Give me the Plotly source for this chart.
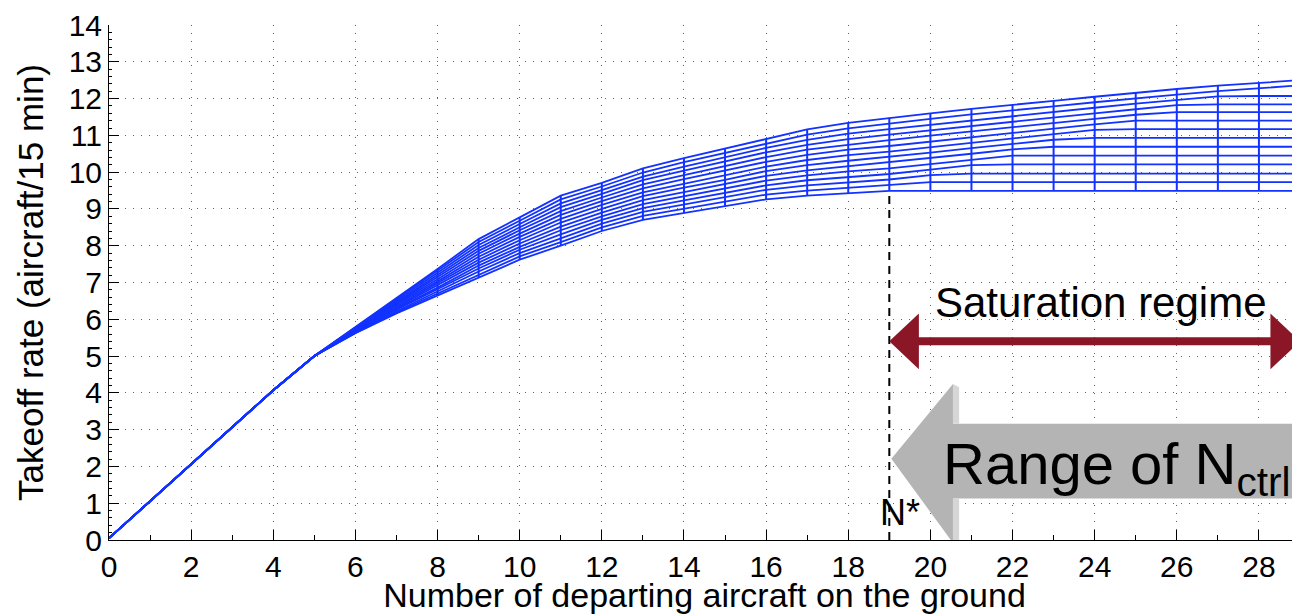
import plotly.graph_objects as go

# ---------------- data ----------------
departing_aircraft = list(range(30))

takeoff_rate_c00 = [0.05, 1.05, 2.07, 3.07, 4.07, 5.00, 5.62, 6.16, 6.64, 7.14, 7.62, 8.00, 8.40, 8.70, 8.89, 9.07, 9.26, 9.36, 9.43, 9.49, 9.49, 9.49, 9.49, 9.49, 9.49, 9.49, 9.49, 9.49, 9.49, 9.49]
takeoff_rate_c01 = [0.05, 1.05, 2.07, 3.07, 4.07, 5.00, 5.63, 6.19, 6.70, 7.22, 7.71, 8.10, 8.50, 8.81, 9.00, 9.19, 9.39, 9.50, 9.58, 9.64, 9.73, 9.73, 9.73, 9.73, 9.73, 9.73, 9.73, 9.73, 9.73, 9.73]
takeoff_rate_c02 = [0.05, 1.05, 2.07, 3.07, 4.07, 5.00, 5.64, 6.22, 6.75, 7.30, 7.80, 8.21, 8.60, 8.92, 9.12, 9.31, 9.52, 9.64, 9.72, 9.80, 9.92, 9.96, 9.96, 9.96, 9.96, 9.96, 9.96, 9.96, 9.96, 9.96]
takeoff_rate_c03 = [0.05, 1.05, 2.07, 3.07, 4.07, 5.00, 5.66, 6.26, 6.81, 7.38, 7.89, 8.31, 8.70, 9.02, 9.23, 9.43, 9.64, 9.78, 9.87, 9.95, 10.07, 10.19, 10.21, 10.21, 10.21, 10.21, 10.21, 10.21, 10.21, 10.21]
takeoff_rate_c04 = [0.05, 1.05, 2.07, 3.07, 4.07, 5.00, 5.67, 6.29, 6.86, 7.46, 7.97, 8.42, 8.80, 9.13, 9.35, 9.55, 9.77, 9.91, 10.02, 10.10, 10.22, 10.34, 10.45, 10.45, 10.45, 10.45, 10.45, 10.45, 10.45, 10.45]
takeoff_rate_c05 = [0.05, 1.05, 2.07, 3.07, 4.07, 5.00, 5.68, 6.32, 6.92, 7.54, 8.06, 8.52, 8.90, 9.24, 9.46, 9.67, 9.90, 10.05, 10.16, 10.26, 10.38, 10.50, 10.62, 10.69, 10.69, 10.69, 10.69, 10.69, 10.69, 10.69]
takeoff_rate_c06 = [0.05, 1.05, 2.07, 3.07, 4.07, 5.00, 5.69, 6.35, 6.98, 7.62, 8.15, 8.63, 9.00, 9.35, 9.58, 9.79, 10.03, 10.19, 10.31, 10.41, 10.53, 10.65, 10.77, 10.88, 10.93, 10.93, 10.93, 10.93, 10.93, 10.93]
takeoff_rate_c07 = [0.05, 1.05, 2.07, 3.07, 4.07, 5.00, 5.71, 6.39, 7.03, 7.70, 8.24, 8.73, 9.11, 9.45, 9.69, 9.92, 10.15, 10.33, 10.46, 10.56, 10.68, 10.80, 10.92, 11.03, 11.15, 11.17, 11.17, 11.17, 11.17, 11.17]
takeoff_rate_c08 = [0.05, 1.05, 2.07, 3.07, 4.07, 5.00, 5.72, 6.42, 7.09, 7.78, 8.33, 8.84, 9.21, 9.56, 9.81, 10.04, 10.28, 10.47, 10.61, 10.71, 10.83, 10.95, 11.07, 11.18, 11.30, 11.40, 11.40, 11.40, 11.40, 11.40]
takeoff_rate_c09 = [0.05, 1.05, 2.07, 3.07, 4.07, 5.00, 5.73, 6.45, 7.15, 7.86, 8.42, 8.94, 9.31, 9.67, 9.92, 10.16, 10.41, 10.61, 10.75, 10.87, 10.99, 11.11, 11.23, 11.33, 11.45, 11.56, 11.63, 11.63, 11.63, 11.63]
takeoff_rate_c10 = [0.05, 1.05, 2.07, 3.07, 4.07, 5.00, 5.74, 6.48, 7.20, 7.94, 8.50, 9.05, 9.41, 9.78, 10.04, 10.28, 10.54, 10.74, 10.90, 11.02, 11.14, 11.26, 11.38, 11.49, 11.60, 11.71, 11.82, 11.84, 11.84, 11.84]
takeoff_rate_c11 = [0.05, 1.05, 2.07, 3.07, 4.07, 5.00, 5.76, 6.52, 7.26, 8.02, 8.59, 9.15, 9.51, 9.88, 10.15, 10.40, 10.66, 10.88, 11.05, 11.17, 11.29, 11.41, 11.53, 11.64, 11.75, 11.86, 11.96, 12.06, 12.07, 12.07]
takeoff_rate_c12 = [0.05, 1.05, 2.07, 3.07, 4.07, 5.00, 5.77, 6.55, 7.31, 8.10, 8.68, 9.26, 9.61, 9.99, 10.27, 10.52, 10.79, 11.02, 11.19, 11.33, 11.45, 11.57, 11.69, 11.79, 11.90, 12.01, 12.11, 12.20, 12.29, 12.36]
takeoff_rate_c13 = [0.05, 1.05, 2.07, 3.07, 4.07, 5.00, 5.78, 6.58, 7.37, 8.18, 8.77, 9.36, 9.71, 10.10, 10.38, 10.64, 10.92, 11.16, 11.34, 11.48, 11.60, 11.72, 11.84, 11.94, 12.05, 12.16, 12.26, 12.35, 12.43, 12.50]

x_tick_values = list(range(0, 30, 2))
y_tick_values = list(range(0, 15))

n_star = 19
label_saturation = "Saturation regime"
label_range = "Range of N<sub>ctrl</sub>"
label_nstar = "N*"
x_title = "Number of departing aircraft on the ground"
y_title = "Takeoff rate (aircraft/15 min)"

curves = [takeoff_rate_c00, takeoff_rate_c01, takeoff_rate_c02, takeoff_rate_c03,
          takeoff_rate_c04, takeoff_rate_c05, takeoff_rate_c06, takeoff_rate_c07,
          takeoff_rate_c08, takeoff_rate_c09, takeoff_rate_c10, takeoff_rate_c11,
          takeoff_rate_c12, takeoff_rate_c13]

BLUE = "rgb(18,50,255)"
DARKRED = "#8a1626"
GRAY = "#b4b4b4"
FONT = "Liberation Sans, Arial, Helvetica, sans-serif"

fig = go.Figure()

# mesh columns: vertical segments joining all curves at each x
vx, vy = [], []
for i, xv in enumerate(departing_aircraft):
    col = [c[i] for c in curves]
    vx += [xv, xv, None]
    vy += [min(col), max(col), None]
fig.add_trace(go.Scatter(x=vx, y=vy, mode="lines",
                         line=dict(color=BLUE, width=2), hoverinfo="skip",
                         showlegend=False))

for c in curves:
    fig.add_trace(go.Scatter(x=departing_aircraft, y=c, mode="lines",
                             line=dict(color=BLUE, width=1.8),
                             showlegend=False))

# dashed line at N*
fig.add_trace(go.Scatter(x=[n_star, n_star], y=[0, min(c[n_star] for c in curves) - 0.1],
                         mode="lines", line=dict(color="black", width=2, dash="8px,6px"),
                         hoverinfo="skip", showlegend=False))

shapes = []
# big gray arrow (Range of N_ctrl)
shapes.append(dict(type="path", xref="x", yref="y", layer="above",
                   path="M 19.05 2.21 L 20.55 4.24 L 20.55 3.16 L 29.6 3.16 L 29.6 1.13 L 20.55 1.13 L 20.55 -0.08 Z",
                   fillcolor=GRAY, line=dict(width=0)))
shapes.append(dict(type="path", xref="x", yref="y", layer="above",
                   path="M 20.55 4.24 L 20.7 4.15 L 20.7 3.16 L 20.55 3.16 Z M 20.55 1.13 L 20.7 1.13 L 20.7 -0.08 L 20.55 -0.08 Z",
                   fillcolor="#d6d6d6", line=dict(width=0)))
# dark red double arrow (Saturation regime)
shapes.append(dict(type="line", xref="x", yref="y", layer="above",
                   x0=19.5, x1=28.5, y0=5.40, y1=5.40,
                   line=dict(color=DARKRED, width=8)))
shapes.append(dict(type="path", xref="x", yref="y", layer="above",
                   path="M 19.0 5.40 L 19.72 6.16 L 19.72 4.64 Z",
                   fillcolor=DARKRED, line=dict(width=0)))
shapes.append(dict(type="path", xref="x", yref="y", layer="above",
                   path="M 29.0 5.40 L 28.28 6.16 L 28.28 4.64 Z",
                   fillcolor=DARKRED, line=dict(width=0)))

annotations = [
    dict(x=24.15, y=6.47, xref="x", yref="y", text=label_saturation, showarrow=False,
         font=dict(family=FONT, size=42, color="black"), xanchor="center", yanchor="middle"),
    dict(x=24.55, y=1.95, xref="x", yref="y", text=label_range, showarrow=False,
         font=dict(family=FONT, size=58, color="black"), xanchor="center", yanchor="middle"),
    dict(x=19.25, y=0.75, xref="x", yref="y", text=label_nstar, showarrow=False,
         font=dict(family=FONT, size=36, color="black"), xanchor="center", yanchor="middle"),
]

# page body has an 8px margin, so the figure is 8px smaller and shifted
fig.update_layout(
    width=1292, height=606,
    margin=dict(l=101, r=0, t=13, b=74),
    paper_bgcolor="white", plot_bgcolor="white",
    font=dict(family=FONT, color="black"),
    shapes=shapes, annotations=annotations,
    showlegend=False,
)
fig.update_xaxes(
    range=[0, 29], tickvals=x_tick_values, ticks="inside", ticklen=10, tickcolor="black",
    tickfont=dict(size=30, family=FONT, color="black"), ticklabeloverflow="allow",
    showline=True, linecolor="black", linewidth=1, mirror=False,
    showgrid=True, gridcolor="rgba(60,60,60,0.8)", griddash="1px,7px", gridwidth=1,
    zeroline=False,
    minor=dict(dtick=1, ticks="inside", ticklen=5, tickcolor="black", showgrid=False),
    title=dict(text=x_title, font=dict(size=34, family=FONT, color="black"), standoff=0),
)
fig.update_yaxes(
    range=[0, 14], tickvals=y_tick_values, ticks="inside", ticklen=10, tickcolor="black",
    tickfont=dict(size=30, family=FONT, color="black"), ticklabeloverflow="allow",
    showline=True, linecolor="black", linewidth=1, mirror=False,
    showgrid=True, gridcolor="rgba(60,60,60,0.8)", griddash="1px,7px", gridwidth=1,
    zeroline=False,
    minor=dict(dtick=0.2, ticks="inside", ticklen=3, tickcolor="black", showgrid=False),
    title=dict(text=y_title, font=dict(size=35, family=FONT, color="black"), standoff=14),
)

fig.write_html("out.html")
